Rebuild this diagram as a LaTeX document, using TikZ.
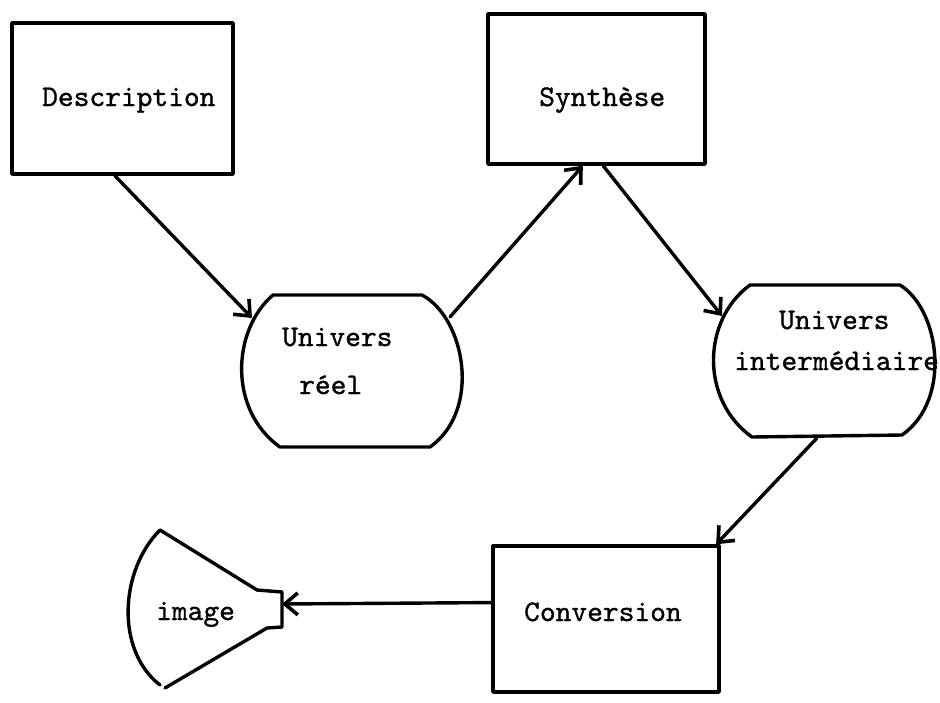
\documentclass[tikz,border=0pt]{standalone}
\usepackage{fontspec}
\newfontfamily\typewriter{lmmono10-regular.otf}[FakeBold=1.0]
\usetikzlibrary{arrows.meta,calc}
\begin{document}
\begin{tikzpicture}[x=1pt,y=-1pt,
  outline/.style={line width=3.4pt, line join=round, line cap=round},
  box/.style={draw, outline, inner sep=0pt},
  txt/.style={font=\typewriter\fontsize{30}{34}\selectfont, inner sep=0pt, anchor=base west},
  flow/.style={outline, -{Straight Barb[length=13pt,width=22pt,line width=3.6pt]}}]
\useasboundingbox (0,0) rectangle (940,702);

% rectangular steps
\node[box, minimum width=221pt, minimum height=151pt] (desc) at (122.5,98.5) {};
\node[box, minimum width=217pt, minimum height=150pt] (synth) at (596.5,89) {};
\node[box, minimum width=226pt, minimum height=146pt] (conv) at (606,619) {};

% "univers" shapes: flat top and bottom, bulging sides
\draw[outline] (273,295) -- (422,295)
  .. controls (465,318) and (482,410) .. (430,447) -- (280,447)
  .. controls (228,410) and (232,330) .. (273,295) -- cycle;
\draw[outline] (750,285) -- (900,285)
  .. controls (940,310) and (952,400) .. (902,435) -- (752,437)
  .. controls (700,400) and (702,320) .. (750,285) -- cycle;

% screen shape for the image
\draw[outline] (160,530) -- (257,590) -- (282,592) -- (282,627) -- (267,628) -- (165,688);
\draw[outline] (160,530) .. controls (120,570) and (115,650) .. (160,685);

% labels
\node[txt] (tdesc) at (42,106) {Description};
\node[txt] (tsynth) at (539,106) {Synthèse};
\node[txt] (tur1) at (282,346) {Univers};
\node[txt] (tur2) at (299,394) {réel};
\node[txt] (tui1) at (779,329) {Univers};
\node[txt] (tui2) at (734,370) {intermédiaire};
\node[txt] (tconv) at (524,621) {Conversion};
\node[txt] (timg) at (156,620) {image};

% connector ends on the drawn outlines
\coordinate (urIn) at (252,318);
\coordinate (urOut) at (450,317);
\coordinate (uiIn) at (722,316);
\coordinate (uiOut) at (817,438);
\coordinate (imgIn) at (282,604);

% flow
\draw[flow] ($(desc.south west)!0.466!(desc.south east)$) -- (urIn);
\draw[flow] (urOut) -- ($(synth.south west)!0.438!(synth.south east)$);
\draw[flow] ($(synth.south west)!0.53!(synth.south east)$) -- (uiIn);
\draw[flow] (uiOut) -- ($(conv.north west)!0.98!(conv.north east)$);
\draw[flow] ($(conv.north west)!0.39!(conv.south west)$) -- (imgIn);
\end{tikzpicture}
\end{document}
